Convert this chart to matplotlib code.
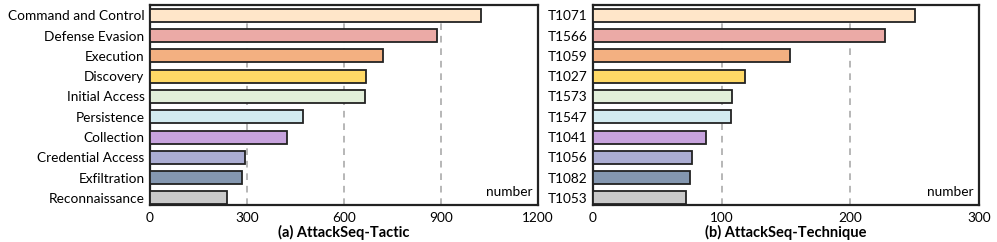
import matplotlib
matplotlib.use("Agg")
import matplotlib.pyplot as plt

plt.rcParams['font.family'] = ['Lato', 'DejaVu Sans']

# Tactic counts (top to bottom)
tactics = ["Command and Control", "Defense Evasion", "Execution", "Discovery",
           "Initial Access", "Persistence", "Collection", "Credential Access",
           "Exfiltration", "Reconnaissance"]
tactic_counts = [1025, 887, 722, 667, 664, 474, 424, 295, 286, 239]

# Technique counts (top to bottom)
techniques = ["T1071", "T1566", "T1059", "T1027", "T1573", "T1547",
              "T1041", "T1056", "T1082", "T1053"]
technique_counts = [250, 227, 153, 118, 108, 107, 88, 77, 75, 72]

colors = ["#FFE6C9", "#EBAAA6", "#F3B081", "#FFD966", "#E2EFDA",
          "#D3EBF0", "#C7A3DD", "#ABADD2", "#8497B0", "#C9C9C9"]

fig = plt.figure(figsize=(9.97, 2.42), dpi=100)
ax1 = fig.add_axes([0.1505, 0.153, 0.389, 0.827])
ax2 = fig.add_axes([0.5948, 0.153, 0.3872, 0.827])


def draw(ax, labels, values, xmax, step, title):
    n = len(labels)
    ypos = list(range(n - 1, -1, -1))
    ax.barh(ypos, values, height=0.64, color=colors, edgecolor="#222222",
            linewidth=1.3, zorder=3)
    ax.set_yticks(ypos)
    ax.set_yticklabels(labels)
    ax.set_xlim(0, xmax)
    ax.set_ylim(-0.35, n - 1 + 0.52)
    ax.set_xticks(range(0, xmax + 1, step))
    ax.tick_params(axis="both", length=0, labelsize=9.8, pad=4)
    ax.tick_params(axis="x", pad=5)
    ax.grid(axis="x", linestyle=(0, (4, 3.5)), color="#aaaaaa", linewidth=1.2, zorder=0)
    for sp in ax.spines.values():
        sp.set_linewidth(1.6)
        sp.set_color("#222222")
    ax.text(0.985, 0.035, "number", transform=ax.transAxes, ha="right",
            va="bottom", fontsize=9.8)
    ax.set_xlabel(title, fontsize=10.5, fontweight="bold", labelpad=1)


draw(ax1, tactics, tactic_counts, 1200, 300, "(a) AttackSeq-Tactic")
draw(ax2, techniques, technique_counts, 300, 100, "(b) AttackSeq-Technique")

fig.savefig("out.png", dpi=100)
